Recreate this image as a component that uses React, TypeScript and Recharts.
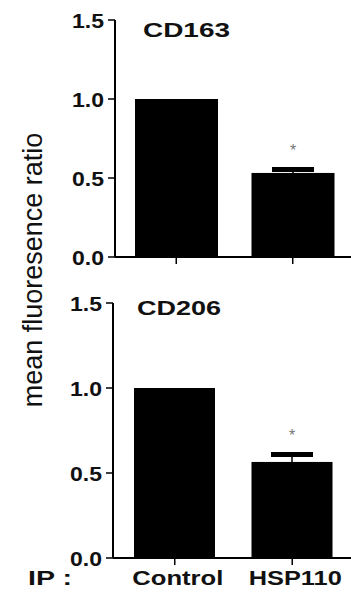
import React from 'react';
import { BarChart, Bar, XAxis, YAxis } from 'recharts';

const categories = ['Control', 'HSP110'];
const cd163Values = [1.0, 0.532];
const cd163Errors = [0, 0.022];
const cd206Values = [1.0, 0.565];
const cd206Errors = [0, 0.044];
const significant = [false, true];
const yTicks = [0, 0.5, 1.0, 1.5];
const labelWidths = [91, 93];

const font = '"Liberation Sans", Arial, sans-serif';

const build = (values: number[], errors: number[]) =>
  categories.map((name, i) => ({ name, value: values[i], err: errors[i], sig: significant[i] }));

const cd163Data = build(cd163Values, cd163Errors);
const cd206Data = build(cd206Values, cd206Errors);

// bar + one-sided SEM bar + significance star
const BarWithError = (props: any) => {
  const { x, y, width, height, payload } = props;
  const ppu = payload.value ? height / payload.value : 0;
  const capY = y - payload.err * ppu;
  const cx = x + width / 2;
  return (
    <g>
      <rect x={x} y={y} width={width} height={height} fill="#000" />
      {payload.err > 0 && (
        <g>
          <line x1={cx} x2={cx} y1={y} y2={capY} stroke="#000" strokeWidth={1.5} />
          <line x1={cx - 21} x2={cx + 21} y1={capY} y2={capY} stroke="#000" strokeWidth={5} />
        </g>
      )}
      {payload.sig && (
        <text x={cx} y={capY - 13} textAnchor="middle" fontSize={16} fill="#777" fontFamily={font}>
          *
        </text>
      )}
    </g>
  );
};

const YTick = (props: any) => {
  const { x, y, payload } = props;
  return (
    <text
      x={x}
      y={y}
      dy={8}
      textAnchor="end"
      fontSize={21}
      fontWeight="bold"
      fill="#111"
      fontFamily={font}
      textLength={32}
      lengthAdjust="spacingAndGlyphs"
    >
      {payload.value.toFixed(1)}
    </text>
  );
};

const XTick = (props: any) => {
  const { x, y, payload, index } = props;
  return (
    <text
      x={x + 3}
      y={y + 18}
      textAnchor="middle"
      fontSize={20}
      fontWeight="bold"
      fill="#111"
      fontFamily={font}
      textLength={labelWidths[index]}
      lengthAdjust="spacingAndGlyphs"
    >
      {payload.value}
    </text>
  );
};

const Panel = ({ data, yWidth, barSize, showLabels, height }: any) => (
  <BarChart width={351} height={height} data={data} margin={{ top: 20, right: 0, left: 0, bottom: 0 }}>
    <XAxis
      dataKey="name"
      height={showLabels ? 40 : 18}
      padding={{ left: 3, right: 0 }}
      axisLine={{ stroke: '#000', strokeWidth: 2 }}
      tickLine={{ stroke: '#000', strokeWidth: 1.5 }}
      tickSize={7}
      tick={showLabels ? <XTick /> : () => <g />}
    />
    <YAxis
      width={yWidth}
      domain={[0, 1.5]}
      ticks={yTicks}
      axisLine={{ stroke: '#000', strokeWidth: 2 }}
      tickLine={{ stroke: '#000', strokeWidth: 1.5 }}
      tickSize={7}
      tickMargin={4}
      tick={<YTick />}
    />
    <Bar dataKey="value" barSize={barSize} shape={<BarWithError />} isAnimationActive={false} />
  </BarChart>
);

export default function App() {
  return (
    <div style={{ position: 'absolute', left: 0, top: 0, width: 351, height: 605, background: '#fff' }}>
      <div style={{ position: 'absolute', left: 0, top: 0 }}>
        <Panel data={cd163Data} yWidth={115} barSize={83} showLabels={false} height={275} />
      </div>
      <div style={{ position: 'absolute', left: 0, top: 283 }}>
        <Panel data={cd206Data} yWidth={113} barSize={81} showLabels={true} height={315} />
      </div>
      <svg
        width={351}
        height={605}
        style={{ position: 'absolute', left: 0, top: 0, pointerEvents: 'none' }}
        fontFamily={font}
      >
        <text x={-270} y={42} transform="rotate(-90)" textAnchor="middle" fontSize={27} fill="#111">
          mean fluoresence ratio
        </text>
        <text x={143} y={37} fontSize={21} fontWeight="bold" fill="#111" textLength={87} lengthAdjust="spacingAndGlyphs">
          CD163
        </text>
        <text x={137} y={315} fontSize={21} fontWeight="bold" fill="#111" textLength={84} lengthAdjust="spacingAndGlyphs">
          CD206
        </text>
        <text x={28} y={585} fontSize={20} fontWeight="bold" fill="#111" textLength={44} lengthAdjust="spacingAndGlyphs">
          IP :
        </text>
      </svg>
    </div>
  );
}
